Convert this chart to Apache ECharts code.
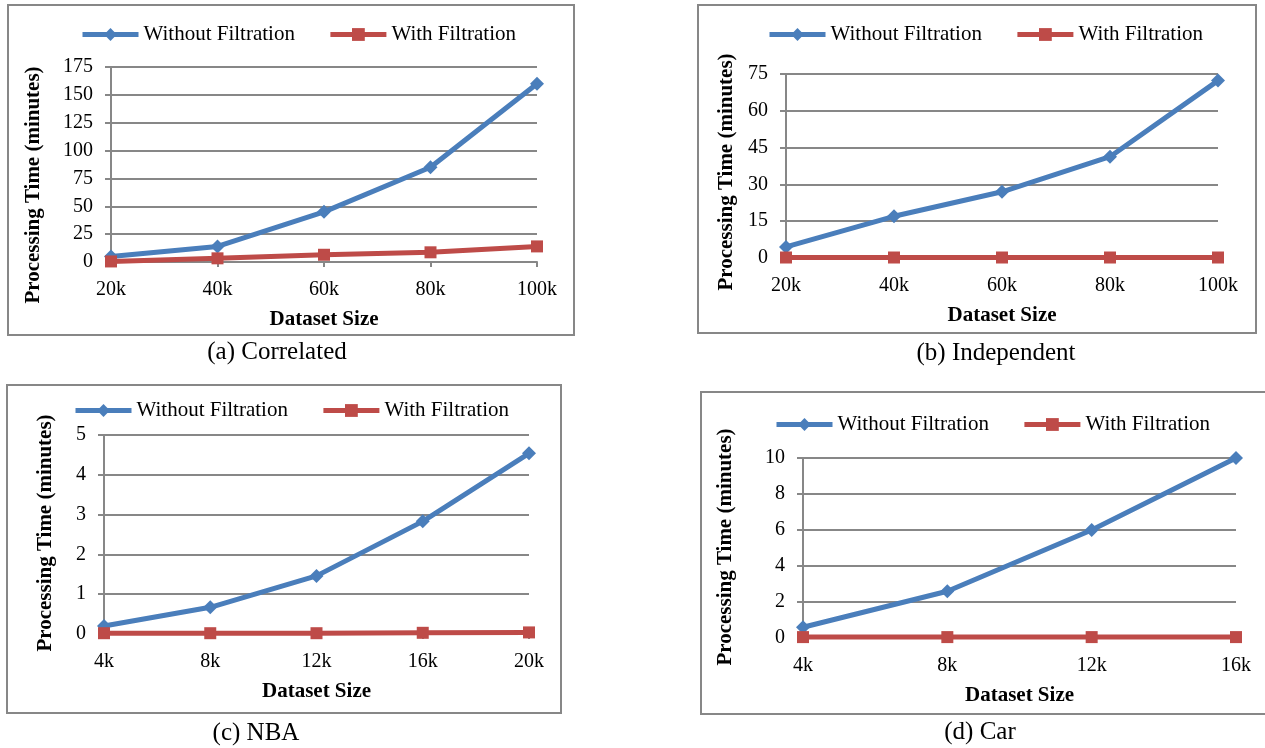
<!DOCTYPE html>
<html>
<head>
<meta charset="utf-8">
<script src="https://cdn.jsdelivr.net/npm/echarts@6/dist/echarts.min.js"></script>
<style>
	html, body { margin: 0; padding: 0; background: #fff; }
	#main { width: 1265px; height: 748px; }
</style>
</head>
<body>
<div id="main"></div>
<script>
	// data
	var seriesNames = ['Without Filtration', 'With Filtration'];

	var corrSizes = ['20k', '40k', '60k', '80k', '100k'];
	var corrWithout = [5, 14, 45, 85, 160];
	var corrWith = [0.5, 3.3, 6.5, 8.7, 14];

	var indepSizes = ['20k', '40k', '60k', '80k', '100k'];
	var indepWithout = [4.5, 17, 27, 41.3, 72.3];
	var indepWith = [0.2, 0.2, 0.2, 0.2, 0.2];

	var nbaSizes = ['4k', '8k', '12k', '16k', '20k'];
	var nbaWithout = [0.2, 0.67, 1.46, 2.83, 4.54];
	var nbaWith = [0.02, 0.02, 0.02, 0.03, 0.04];

	var carSizes = ['4k', '8k', '12k', '16k'];
	var carWithout = [0.6, 2.6, 6, 10];
	var carWith = [0.05, 0.05, 0.05, 0.05];

	var yMax = [175, 75, 5, 10];
	var yStep = [25, 15, 1, 2];
	var captions = ['(a) Correlated', '(b) Independent', '(c) NBA', '(d) Car'];

	var FONT = 'Liberation Serif';
	var GRAY = '#878787';
	var BLUE = '#4A7EBB';
	var RED = '#BE4B48';

	// layout of the four panels (pixels)
	var panels = [
		{ cats: corrSizes, a: corrWithout, b: corrWith,
			grid: { left: 111, top: 67, width: 426, height: 195 },
			box: [8, 5, 566, 330], legend: [80, 24], yTitle: [34, 185], cap: [277, 352] },
		{ cats: indepSizes, a: indepWithout, b: indepWith,
			grid: { left: 786, top: 74, width: 432, height: 184 },
			box: [698, 5, 558, 328], legend: [767, 24], yTitle: [727, 172], cap: [996, 353] },
		{ cats: nbaSizes, a: nbaWithout, b: nbaWith,
			grid: { left: 104, top: 435, width: 425, height: 199 },
			box: [7, 385, 554, 328], legend: [73, 400], yTitle: [46, 533], cap: [256, 733] },
		{ cats: carSizes, a: carWithout, b: carWith,
			grid: { left: 803, top: 458, width: 433, height: 180 },
			box: [701, 392, 570, 322], legend: [774, 414], yTitle: [726, 547], cap: [980, 732] }
	];

	var chart = echarts.init(document.getElementById('main'));

	var grids = [], xAxes = [], yAxes = [], series = [], legends = [], graphics = [];

	panels.forEach(function(p, i) {
		grids.push(p.grid);
		xAxes.push({
			type: 'category',
			gridIndex: i,
			boundaryGap: false,
			data: p.cats,
			name: 'Dataset Size',
			nameLocation: 'middle',
			nameGap: 47,
			nameTextStyle: { fontFamily: FONT, fontSize: 21, fontWeight: 'bold', color: '#000' },
			axisLine: { lineStyle: { color: GRAY, width: 2 } },
			axisTick: { show: true, length: 5, lineStyle: { color: GRAY, width: 2 } },
			axisLabel: { fontFamily: FONT, fontSize: 20, color: '#000', margin: 18 },
			splitLine: { show: false }
		});
		yAxes.push({
			type: 'value',
			gridIndex: i,
			min: 0,
			max: yMax[i],
			interval: yStep[i],
			axisLine: { show: true, lineStyle: { color: GRAY, width: 2 } },
			axisTick: { show: true, length: 6, lineStyle: { color: GRAY, width: 2 } },
			axisLabel: { fontFamily: FONT, fontSize: 20, color: '#000', margin: 18 },
			splitLine: { lineStyle: { color: GRAY, width: 2 } }
		});
		series.push({
			name: seriesNames[0],
			type: 'line',
			xAxisIndex: i,
			yAxisIndex: i,
			data: p.a,
			symbol: 'diamond',
			symbolSize: 14,
			lineStyle: { color: BLUE, width: 5 },
			itemStyle: { color: BLUE, borderWidth: 0 },
			animation: false
		});
		series.push({
			name: seriesNames[1],
			type: 'line',
			xAxisIndex: i,
			yAxisIndex: i,
			data: p.b,
			symbol: 'rect',
			symbolSize: 12,
			lineStyle: { color: RED, width: 5 },
			itemStyle: { color: RED, borderWidth: 0 },
			animation: false
		});
		legends.push({
			left: p.legend[0],
			top: p.legend[1],
			padding: 0,
			data: seriesNames,
			itemWidth: 56,
			itemHeight: 16,
			itemGap: 33,
			lineStyle: { width: 5 },
			textStyle: { fontFamily: FONT, fontSize: 21, color: '#000' }
		});
		graphics.push({
			type: 'rect',
			shape: { x: p.box[0], y: p.box[1], width: p.box[2], height: p.box[3] },
			style: { fill: 'none', stroke: GRAY, lineWidth: 2 },
			z: -1
		});
		graphics.push({
			type: 'text',
			x: p.yTitle[0],
			y: p.yTitle[1],
			rotation: Math.PI / 2,
			style: {
				text: 'Processing Time (minutes)',
				fontFamily: FONT, fontSize: 21, fontWeight: 'bold', fill: '#000',
				align: 'center', verticalAlign: 'middle'
			}
		});
		graphics.push({
			type: 'text',
			x: p.cap[0],
			y: p.cap[1],
			style: {
				text: captions[i],
				fontFamily: FONT, fontSize: 25, fill: '#000',
				align: 'center', verticalAlign: 'middle'
			}
		});
	});

	chart.setOption({
		animation: false,
		grid: grids,
		xAxis: xAxes,
		yAxis: yAxes,
		legend: legends,
		series: series,
		graphic: graphics
	});
</script>
</body>
</html>
